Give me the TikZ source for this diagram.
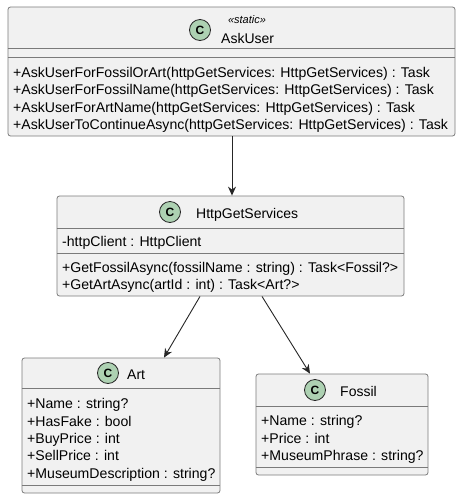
\documentclass[tikz,border=0pt]{standalone}
\usepackage{fontspec}
\setmainfont{Liberation Sans}
\usetikzlibrary{arrows.meta}
\definecolor{boxfill}{HTML}{F1F1F1}
\definecolor{boxline}{HTML}{7A7A7A}
\definecolor{spotfill}{HTML}{ADD1B2}
\tikzset{
  classbox/.style={draw=boxline, fill=boxfill, rounded corners=2.5pt, line width=0.8pt, inner sep=0pt},
  sepline/.style={draw=boxline, line width=0.8pt},
  member/.style={anchor=west, inner sep=0pt, text height=12pt, text depth=2pt, font=\fontsize{14.1}{16}\selectfont},
  classname/.style={anchor=west, inner sep=0pt, text height=12pt, text depth=2pt, font=\fontsize{14}{16}\selectfont},
  stereo/.style={inner sep=0pt, font=\fontsize{11}{12}\selectfont\itshape},
  spot/.style={circle, draw=black!85, fill=spotfill, minimum size=21pt, inner sep=0pt, line width=0.8pt, font=\fontsize{12}{13}\selectfont\bfseries},
  assoc/.style={draw=black!85, line width=0.9pt, -{Stealth[length=9pt,width=8pt,inset=3pt]}}
}
\begin{document}
\begin{tikzpicture}[x=1pt,y=-1pt]
    \useasboundingbox (0,0) rectangle (461,499);
    %% AskUser
    \node[classbox, minimum width=447pt, minimum height=129pt] (askuser) at (231.5,71.5) {};
    \node[spot] (askuser-c) at (200,30) {C};
    \node[stereo] (askuser-st) at (247,20) {«static»};
    \node[classname] (askuser-n) at (221,38) {AskUser};
    \draw[sepline] (askuser.west |- 0,48) -- (askuser.east |- 0,48);
    \draw[sepline] (askuser.west |- 0,57) -- (askuser.east |- 0,57);
    \foreach \y/\t [count=\i] in {72/{+AskUserForFossilOrArt(httpGetServices: HttpGetServices) : Task},
                                  89/{+AskUserForFossilName(httpGetServices: HttpGetServices) : Task},
                                  107/{+AskUserForArtName(httpGetServices: HttpGetServices) : Task},
                                  124/{+AskUserToContinueAsync(httpGetServices: HttpGetServices) : Task}}
        \node[member] (askuser-m\i) at (13,\y) {\t};
    %% HttpGetServices
    \node[classbox, minimum width=347pt, minimum height=100pt] (http) at (230.5,246) {};
    \node[spot] (http-c) at (170,212) {C};
    \node[classname] (http-n) at (196,213) {HttpGetServices};
    \draw[sepline] (http.west |- 0,228) -- (http.east |- 0,228);
    \draw[sepline] (http.west |- 0,253) -- (http.east |- 0,253);
    \node[member] (http-a1) at (62,241) {-httpClient : HttpClient};
    \node[member] (http-m1) at (62,267) {+GetFossilAsync(fossilName : string) : Task<Fossil?>};
    \node[member] (http-m2) at (62,284) {+GetArtAsync(artId : int) : Task<Art?>};
    %% Art
    \node[classbox, minimum width=198pt, minimum height=135pt] (art) at (121,425.5) {};
    \node[spot] (art-c) at (108,373) {C};
    \node[classname] (art-n) at (127,374) {Art};
    \draw[sepline] (art.west |- 0,388) -- (art.east |- 0,388);
    \draw[sepline] (art.west |- 0,485) -- (art.east |- 0,485);
    \foreach \y/\t [count=\i] in {403/{+Name : string?}, 421/{+HasFake : bool}, 438/{+BuyPrice : int},
                                  455/{+SellPrice : int}, 473/{+MuseumDescription : string?}}
        \node[member] (art-a\i) at (27,\y) {\t};
    %% Fossil
    \node[classbox, minimum width=172pt, minimum height=101pt] (fossil) at (342,424.5) {};
    \node[spot] (fossil-c) at (315,390) {C};
    \node[classname] (fossil-n) at (340,391) {Fossil};
    \draw[sepline] (fossil.west |- 0,406) -- (fossil.east |- 0,406);
    \draw[sepline] (fossil.west |- 0,467) -- (fossil.east |- 0,467);
    \foreach \y/\t [count=\i] in {420/{+Name : string?}, 438/{+Price : int}, 455/{+MuseumPhrase : string?}}
        \node[member] (fossil-a\i) at (261,\y) {\t};
    %% Links
    \draw[assoc] (askuser.south -| 232,0) -- (http.north -| 232,0);
    \draw[assoc] (http.south -| 200,0) -- (art.north -| 164,0);
    \draw[assoc] (http.south -| 262,0) -- (fossil.north -| 310,0);
\end{tikzpicture}
\end{document}
